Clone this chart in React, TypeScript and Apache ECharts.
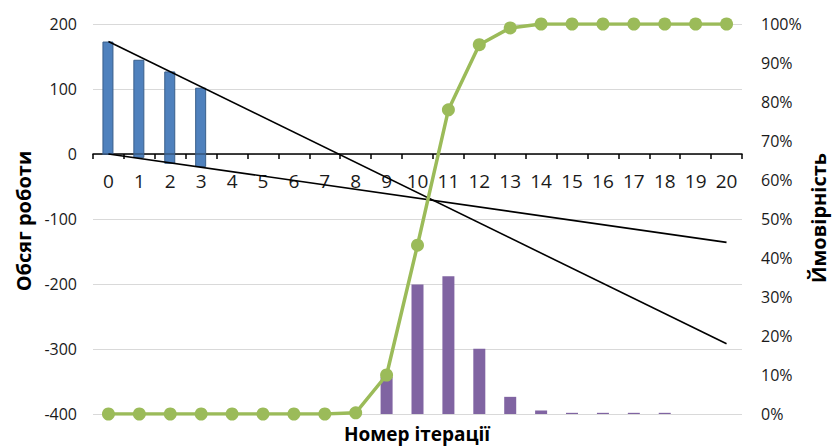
import React, { useEffect, useRef } from "react";
import * as echarts from "echarts";

const categories = ["0","1","2","3","4","5","6","7","8","9","10","11","12","13","14","15","16","17","18","19","20"];
const workTop = [173, 145, 127, 102, null, null, null, null, null, null, null, null, null, null, null, null, null, null, null, null, null];
const workBottom = [0, -6, -15, -20, null, null, null, null, null, null, null, null, null, null, null, null, null, null, null, null, null];
const probability = [null, null, null, null, null, null, null, null, null, 9.5, 33.2, 35.3, 16.7, 4.4, 0.9, 0.3, 0.3, 0.3, 0.3, null, null];
const cumulative = [0, 0, 0, 0, 0, 0, 0, 0, 0.3, 10, 43.3, 78, 94.7, 99, 100, 100, 100, 100, 100, 100, 100];
const trendSteep = [173, null, null, null, null, null, null, null, null, null, null, null, null, null, null, null, null, null, null, null, -292];
const trendFlat = [0, null, null, null, null, null, null, null, null, null, null, null, null, null, null, null, null, null, null, null, -136];
const leftTicks = { min: -400, max: 200, interval: 100 };
const rightTicks = { min: 0, max: 100, interval: 10 };

const FONT = "'Open Sans', 'Noto Sans', sans-serif";
const GRID_TOP = 24;
const GRID_BOTTOM = 32;
const CHART_H = 446;

export default function App() {
  const ref = useRef<HTMLDivElement>(null);
  useEffect(() => {
    if (!ref.current) return;
    const chart = echarts.init(ref.current, null, { renderer: "svg" });
    const gridH = CHART_H - GRID_TOP - GRID_BOTTOM;
    const zeroFromBottom = (gridH * (0 - leftTicks.min)) / (leftTicks.max - leftTicks.min);
    chart.setOption({
      animation: false,
      backgroundColor: "#ffffff",
      textStyle: { fontFamily: FONT },
      grid: { left: 93, right: 90, top: GRID_TOP, bottom: GRID_BOTTOM, containLabel: false },
      xAxis: {
        type: "category",
        data: categories,
        boundaryGap: true,
        position: "bottom",
        offset: -zeroFromBottom,
        axisLine: { onZero: false, lineStyle: { color: "#000", width: 1.5 } },
        axisTick: { show: true, length: 5, lineStyle: { color: "#000", width: 1.5 } },
        axisLabel: { margin: 17, fontSize: 19, color: "#1a1a1a", fontFamily: FONT, interval: 0 },
        splitLine: { show: false },
        z: 1,
      },
      yAxis: [
        {
          type: "value",
          min: leftTicks.min,
          max: leftTicks.max,
          interval: leftTicks.interval,
          axisLine: { show: false },
          axisTick: { show: false },
          axisLabel: { fontSize: 16, color: "#1a1a1a", margin: 16, fontFamily: FONT },
          splitLine: { show: true, lineStyle: { color: "#d9d9d9", width: 1 } },
        },
        {
          type: "value",
          position: "right",
          min: rightTicks.min,
          max: rightTicks.max,
          interval: rightTicks.interval,
          axisLine: { show: false },
          axisTick: { show: false },
          axisLabel: { fontSize: 16, color: "#1a1a1a", margin: 19, formatter: "{value}%", fontFamily: FONT },
          splitLine: { show: false },
        },
      ],
      series: [
        {
          type: "bar",
          yAxisIndex: 0,
          data: workTop,
          barWidth: 11,
          barGap: "-100%",
          itemStyle: { color: "#4F81BD", borderColor: "#3a5f8b", borderWidth: 1 },
          z: 2,
        },
        {
          type: "bar",
          yAxisIndex: 0,
          data: workBottom,
          barWidth: 11,
          barGap: "-100%",
          itemStyle: { color: "#4F81BD", borderColor: "#3a5f8b", borderWidth: 1 },
          z: 2,
        },
        {
          type: "bar",
          yAxisIndex: 1,
          data: probability,
          barWidth: 12,
          barGap: "-100%",
          itemStyle: { color: "#8064A2" },
          z: 2,
        },
        {
          type: "line",
          yAxisIndex: 0,
          data: trendSteep,
          connectNulls: true,
          symbol: "none",
          lineStyle: { color: "#000", width: 1.6 },
          z: 3,
        },
        {
          type: "line",
          yAxisIndex: 0,
          data: trendFlat,
          connectNulls: true,
          symbol: "none",
          lineStyle: { color: "#000", width: 1.6 },
          z: 3,
        },
        {
          type: "line",
          yAxisIndex: 1,
          data: cumulative,
          symbol: "circle",
          symbolSize: 13,
          lineStyle: { color: "#9BBB59", width: 3.5 },
          itemStyle: { color: "#9BBB59" },
          z: 4,
        },
      ],
      graphic: [
        {
          type: "text",
          x: 23,
          y: 221,
          rotation: Math.PI / 2,
          style: {
            text: "Обсяг роботи",
            fontFamily: FONT,
            fontSize: 20,
            fontWeight: "bold",
            fill: "#000",
            align: "center",
            verticalAlign: "middle",
          },
        },
        {
          type: "text",
          x: 818,
          y: 218,
          rotation: Math.PI / 2,
          style: {
            text: "Ймовірність",
            fontFamily: FONT,
            fontSize: 20,
            fontWeight: "bold",
            fill: "#000",
            align: "center",
            verticalAlign: "middle",
          },
        },
        {
          type: "text",
          x: 417,
          y: 434,
          style: {
            text: "Номер ітерації",
            fontFamily: FONT,
            fontSize: 19,
            fontWeight: "bold",
            fill: "#000",
            align: "center",
            verticalAlign: "middle",
          },
        },
      ],
    });
    return () => chart.dispose();
  }, []);
  return (
    <div
      ref={ref}
      style={{ position: "fixed", left: 0, top: 0, width: 832, height: 446 }}
    />
  );
}
